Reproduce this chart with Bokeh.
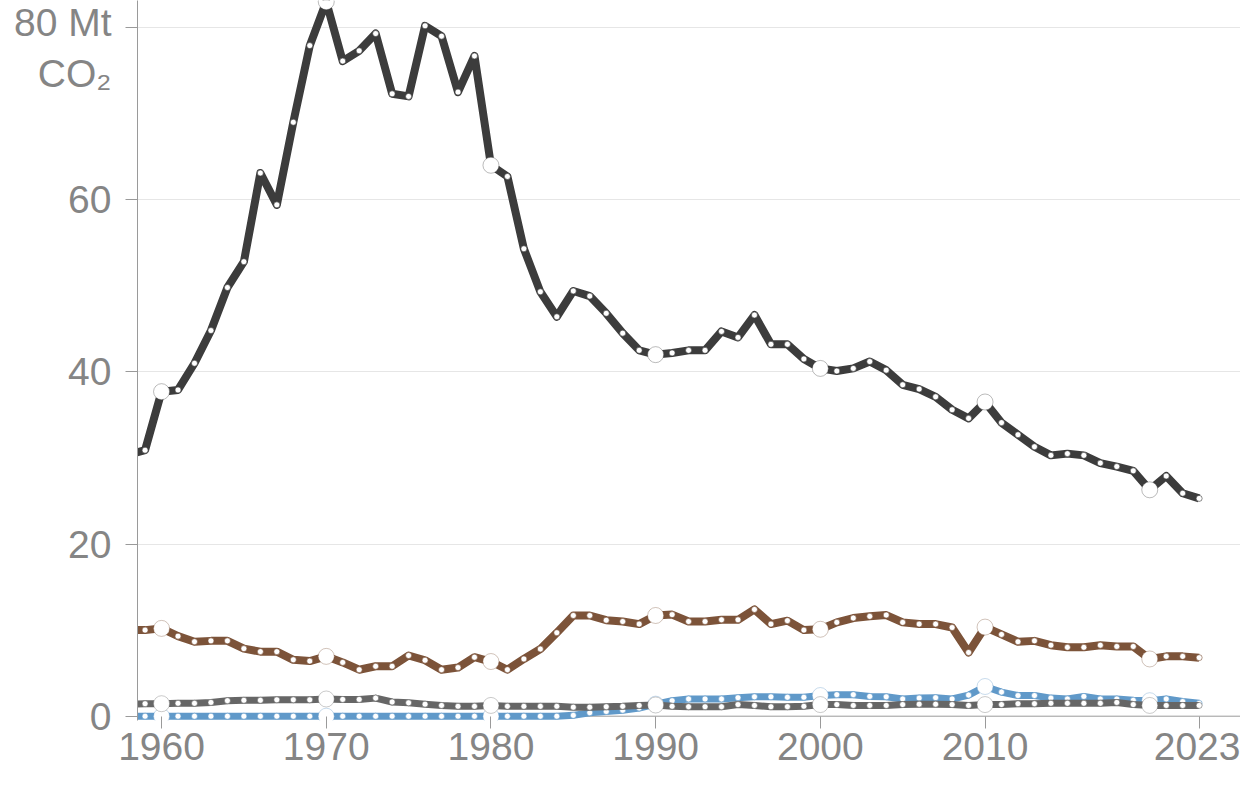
from bokeh.plotting import figure
from bokeh.models import FixedTicker, Span, Range1d
from bokeh.embed import file_html
from bokeh.resources import INLINE

years = list(range(1958, 2024))

coal = [30.4, 30.9, 37.7, 37.9, 41.0, 44.8, 49.8, 52.8, 63.1, 59.4,
        69.0, 77.9, 83.0, 76.1, 77.3, 79.3, 72.3, 72.0, 80.2, 79.0,
        72.5, 76.7, 64.0, 62.7, 54.3, 49.3, 46.4, 49.4, 48.8, 46.8,
        44.5, 42.5, 42.0, 42.2, 42.5, 42.5, 44.7, 44.0, 46.6, 43.2,
        43.2, 41.5, 40.4, 40.1, 40.4, 41.2, 40.2, 38.5, 38.0, 37.1,
        35.6, 34.6, 36.5, 34.1, 32.7, 31.3, 30.3, 30.5, 30.3, 29.4,
        29.0, 28.5, 26.3, 27.9, 25.9, 25.3]

oil = [10.0, 10.0, 10.2, 9.3, 8.65, 8.75, 8.75, 7.85, 7.5, 7.5,
       6.55, 6.4, 6.95, 6.25, 5.4, 5.8, 5.8, 7.05, 6.5, 5.4,
       5.65, 6.85, 6.35, 5.4, 6.65, 7.8, 9.7, 11.7, 11.7, 11.15,
       11.0, 10.7, 11.7, 11.8, 11.0, 11.0, 11.2, 11.2, 12.4, 10.7,
       11.1, 10.0, 10.1, 10.9, 11.4, 11.6, 11.75, 10.9, 10.7, 10.7,
       10.3, 7.4, 10.35, 9.5, 8.65, 8.75, 8.25, 8.0, 8.0, 8.25,
       8.1, 8.1, 6.65, 6.95, 6.95, 6.8]

cement = [1.4, 1.45, 1.45, 1.5, 1.5, 1.6, 1.8, 1.85, 1.85, 1.9,
          1.9, 1.9, 2.0, 1.95, 1.95, 2.1, 1.65, 1.55, 1.4, 1.25,
          1.15, 1.15, 1.25, 1.15, 1.15, 1.15, 1.15, 1.05, 1.05, 1.1,
          1.15, 1.25, 1.3, 1.15, 1.1, 1.1, 1.1, 1.35, 1.25, 1.1,
          1.1, 1.15, 1.35, 1.35, 1.25, 1.25, 1.25, 1.35, 1.4, 1.4,
          1.35, 1.25, 1.35, 1.35, 1.45, 1.45, 1.5, 1.5, 1.5, 1.5,
          1.6, 1.35, 1.25, 1.25, 1.25, 1.25]

gas = [0.0, 0.0, 0.0, 0.0, 0.0, 0.0, 0.0, 0.0, 0.0, 0.0,
       0.0, 0.0, 0.0, 0.0, 0.0, 0.0, 0.0, 0.0, 0.0, 0.0,
       0.0, 0.0, 0.0, 0.0, 0.0, 0.0, 0.0, 0.1, 0.4, 0.55,
       0.7, 0.95, 1.4, 1.8, 2.0, 2.0, 2.0, 2.15, 2.25, 2.25,
       2.2, 2.2, 2.4, 2.5, 2.5, 2.3, 2.25, 2.0, 2.1, 2.15,
       2.0, 2.45, 3.45, 2.8, 2.4, 2.4, 2.1, 2.0, 2.3, 2.0,
       2.0, 1.85, 1.8, 2.0, 1.7, 1.5]

x_ticks = [1960, 1970, 1980, 1990, 2000, 2010, 2023]
y_ticks = [0, 20, 40, 60, 80]
y_top_label = "80 Mt\nCO₂"
highlight_years = [1960, 1970, 1980, 1990, 2000, 2010, 2020]

FONT = "Liberation Sans"
TEXT_COLOR = "#858585"
AXIS_COLOR = "#9a9a9a"
FONT_SIZE = "39px"

p = figure(width=1240, height=780, output_backend="svg", toolbar_location=None,
           x_range=Range1d(1958.54, 2025.51), y_range=Range1d(-0.5, 83.14),
           min_border_left=137, min_border_top=0, min_border_right=0,
           min_border_bottom=60)
p.outline_line_color = None
p.background_fill_color = "white"
p.border_fill_color = "white"

# grid
p.xgrid.grid_line_color = None
p.ygrid.ticker = FixedTicker(ticks=[20, 40, 60, 80])
p.ygrid.grid_line_color = "#e6e6e6"
p.ygrid.grid_line_width = 1

# x axis
p.xaxis.ticker = FixedTicker(ticks=x_ticks)
p.xaxis.axis_line_color = None
p.xaxis.major_tick_line_color = AXIS_COLOR
p.xaxis.major_tick_in = 4
p.xaxis.major_tick_out = 8
p.xaxis.minor_tick_line_color = None
p.xaxis.major_label_text_font = FONT
p.xaxis.major_label_text_font_size = FONT_SIZE
p.xaxis.major_label_text_color = TEXT_COLOR
p.xaxis.major_label_standoff = 4

# y axis
p.yaxis.ticker = FixedTicker(ticks=y_ticks)
p.yaxis.major_label_overrides = {80: y_top_label}
p.yaxis.axis_line_color = AXIS_COLOR
p.yaxis.major_tick_line_color = AXIS_COLOR
p.yaxis.major_tick_in = 0
p.yaxis.major_tick_out = 12
p.yaxis.minor_tick_line_color = None
p.yaxis.major_label_text_font = FONT
p.yaxis.major_label_text_font_size = FONT_SIZE
p.yaxis.major_label_text_color = TEXT_COLOR
p.yaxis.major_label_standoff = 14

# baseline at zero
p.add_layout(Span(location=0, dimension="width", line_color=AXIS_COLOR,
                  line_width=1, level="underlay"))

series = [
    (gas, "#6099c9", 7),
    (cement, "#666666", 7),
    (oil, "#7c5339", 8),
    (coal, "#3c3c3c", 8),
]

for vals, color, w in series:
    p.line(years, vals, line_color=color, line_width=w, line_join="round")
    p.scatter(years, vals, size=6, fill_color="white", line_color=color,
              line_width=0.6)
    hy = [vals[years.index(y)] for y in highlight_years]
    p.scatter(highlight_years, hy, size=16, fill_color="white",
              line_color=color, line_alpha=0.35, line_width=1)

open("out.html", "w").write(file_html(p, INLINE))
